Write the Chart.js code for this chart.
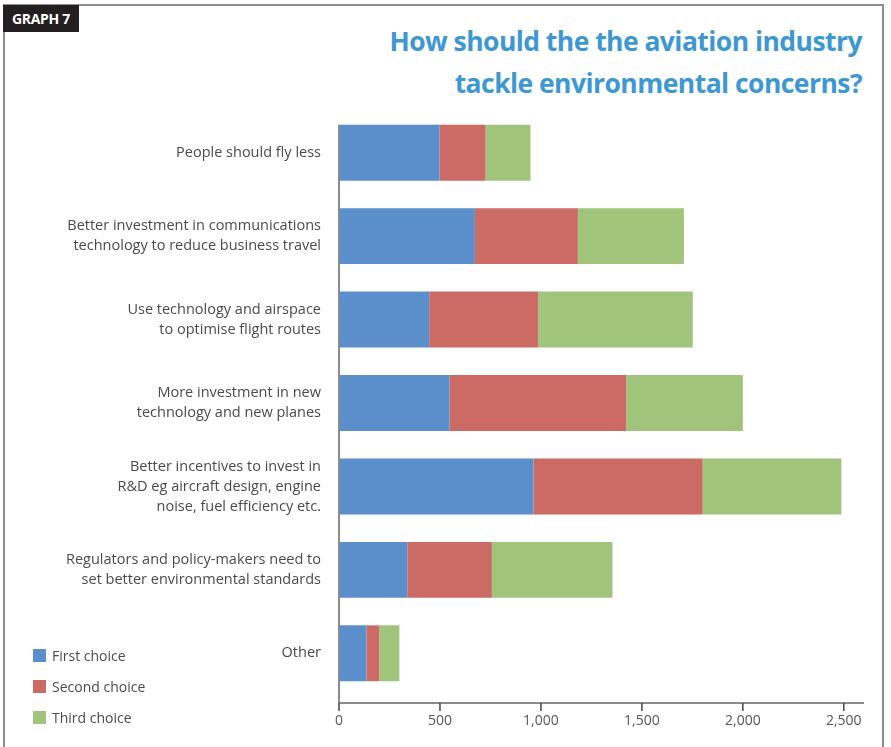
<!DOCTYPE html>
<html>
<head>
<meta charset="utf-8">
<script src="https://cdn.jsdelivr.net/npm/chart.js@4.4.1/dist/chart.umd.min.js"></script>
<style>
  body { margin: 0; background: #fff; }
  #wrap { position: relative; width: 891px; height: 747px; overflow: hidden; font-family: "Open Sans", sans-serif; }
  #frame { position: absolute; left: 3px; top: 4px; width: 877px; height: 800px; border: 2px solid #8c8c8c; border-bottom: none; }
  #tag { position: absolute; left: 3px; top: 5px; width: 76px; height: 27px; background: #231f20; color: #fff;
         font: bold 14px "Open Sans", sans-serif; line-height: 27px; text-align: center; letter-spacing: -0.3px; }
  #title { position: absolute; right: 29px; top: 20px; text-align: right; color: #3d97d3;
           font: bold 26.5px "Open Sans", sans-serif; line-height: 42px; letter-spacing: -0.55px; }
  #chart { position: absolute; left: 0; top: 0; width: 891px; height: 747px; }
  #legend { position: absolute; left: 33px; top: 648px; font-size: 14px; color: #4a4a4a; }
  #legend div { height: 31px; display: flex; align-items: flex-start; }
  #legend span.box { width: 13px; height: 13px; margin-right: 6px; margin-top: 1px; }
  #legend span.txt { line-height: 15px; }
</style>
</head>
<body>
<div id="wrap">
  <div id="frame"></div>
  <div id="tag">GRAPH 7</div>
  <div id="title">How should the the aviation industry<br>tackle environmental concerns?</div>
  <div id="chart"><canvas id="c"></canvas></div>
  <div id="legend"></div>
</div>
<script>
const categories = [
  ['People should fly less'],
  ['Better investment in communications', 'technology to reduce business travel'],
  ['Use technology and airspace', 'to optimise flight routes'],
  ['More investment in new', 'technology and new planes'],
  ['Better incentives to invest in', 'R&D eg aircraft design, engine', 'noise, fuel efficiency etc.'],
  ['Regulators and policy-makers need to', 'set better environmental standards'],
  ['Other']
];
const seriesNames = ['First choice', 'Second choice', 'Third choice'];
const firstChoice = [498, 673, 447, 547, 963, 338, 136];
const secondChoice = [228, 510, 539, 876, 838, 419, 64];
const thirdChoice = [222, 525, 766, 577, 687, 597, 99];
const xTicks = [0, 500, 1000, 1500, 2000, 2500];
const xMax = 2600;

const colors = ['#5b8fcb', '#cc6b65', '#a0c47a'];

// axis lines drawn by hand so they can sit below the plot area like the original
const axisLines = {
  id: 'axisLines',
  afterDatasetsDraw(chart) {
    const { ctx, chartArea, scales: { x } } = chart;
    const firstBar = chart.getDatasetMeta(0).data[0];
    const top = firstBar.y - firstBar.height / 2;
    const axisY = chartArea.bottom + 8;
    const x0 = x.getPixelForValue(0);
    ctx.save();
    ctx.strokeStyle = '#8c8c8c';
    ctx.lineWidth = 2;
    ctx.beginPath();
    ctx.moveTo(x0, top);
    ctx.lineTo(x0, axisY);
    ctx.moveTo(x0, axisY);
    ctx.lineTo(x.getPixelForValue(xMax), axisY);
    ctx.stroke();
    ctx.strokeStyle = '#444';
    ctx.lineWidth = 1.5;
    ctx.beginPath();
    xTicks.forEach(v => {
      const px = x.getPixelForValue(v);
      ctx.moveTo(px, axisY);
      ctx.lineTo(px, axisY + 8);
    });
    ctx.stroke();
    ctx.restore();
  }
};

const chart = new Chart(document.getElementById('c'), {
  type: 'bar',
  data: {
    labels: categories,
    datasets: [firstChoice, secondChoice, thirdChoice].map((d, i) => ({
      label: seriesNames[i],
      data: d,
      backgroundColor: colors[i],
      borderWidth: 0,
      categoryPercentage: 0.67,
      barPercentage: 1
    }))
  },
  options: {
    indexAxis: 'y',
    responsive: true,
    maintainAspectRatio: false,
    animation: false,
    layout: { padding: { left: 0, right: 27, top: 111, bottom: 0 } },
    plugins: { legend: { display: false }, tooltip: { enabled: false } },
    scales: {
      x: {
        stacked: true,
        min: 0,
        max: xMax,
        grid: { display: false },
        border: { display: false },
        afterBuildTicks(scale) { scale.ticks = xTicks.map(v => ({ value: v })); },
        afterFit(scale) { scale.height = 52; },
        ticks: {
          padding: 10,
          color: '#555',
          font: { family: 'Open Sans', size: 14 },
          callback: v => v.toLocaleString('en-US')
        }
      },
      y: {
        stacked: true,
        grid: { display: false },
        border: { display: false },
        afterFit(scale) { scale.width = 339; },
        ticks: {
          padding: 10,
          color: '#4a4a4a',
          font: { family: 'Open Sans', size: 14.5, lineHeight: 1.38 }
        }
      }
    }
  },
  plugins: [axisLines]
});

const legend = document.getElementById('legend');
seriesNames.forEach((name, i) => {
  const row = document.createElement('div');
  row.innerHTML = `<span class="box" style="background:${colors[i]}"></span><span class="txt">${name}</span>`;
  legend.appendChild(row);
});
</script>
</body>
</html>
